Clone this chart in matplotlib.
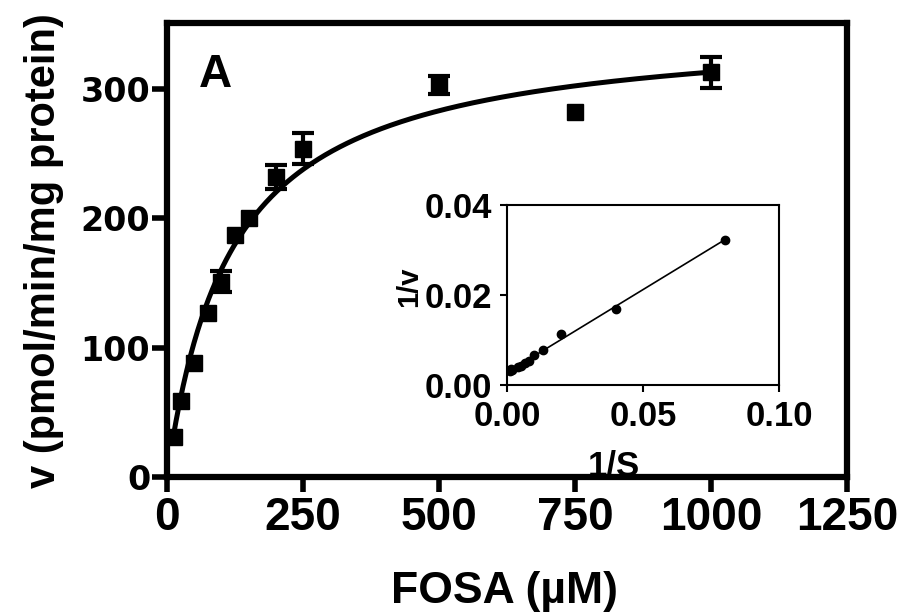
import matplotlib
matplotlib.use("Agg")
import matplotlib.pyplot as plt
import numpy as np

# FOSA concentration (uM), rate v (pmol/min/mg protein), SEM (0 = no bar drawn)
fosa = [12.5, 25, 50, 75, 100, 125, 150, 200, 250, 500, 750, 1000]
rate = [31, 59, 88, 127, 151, 187, 200, 232, 254, 303, 282, 313]
err = [0, 0, 0, 0, 8, 0, 0, 9, 12, 7, 0, 12]

# Michaelis-Menten fit parameters
vmax = 350
km = 118

x_ticks = [0, 250, 500, 750, 1000, 1250]
y_ticks = [0, 100, 200, 300]
inset_xticks = [0.00, 0.05, 0.10]
inset_yticks = [0.00, 0.02, 0.04]

FONT = "Liberation Sans"

fig = plt.figure(figsize=(9.04, 6.16), dpi=100)
ax = fig.add_axes([0.1847, 0.2256, 0.7522, 0.737])

S = np.array(fosa)
v = np.array(rate)
e = np.array(err)
has_err = e > 0

ax.errorbar(S[has_err], v[has_err], yerr=e[has_err], fmt="none", ecolor="black",
            elinewidth=3, capsize=8, capthick=3, zorder=3)
ax.plot(S, v, "s", color="black", markersize=11, zorder=4)

s_fit = np.linspace(10, 1000, 300)
ax.plot(s_fit, vmax * s_fit / (km + s_fit), color="black", linewidth=3.6, zorder=2)

ax.set_xlim(0, 1250)
ax.set_ylim(0, 351)
ax.set_xticks(x_ticks)
ax.set_yticks(y_ticks)
ax.set_xticklabels([str(t) for t in x_ticks], fontfamily=FONT, fontweight="bold", fontsize=33)
ax.set_yticklabels([str(t) for t in y_ticks], fontfamily="DejaVu Sans", fontweight="bold", fontsize=24)
ax.tick_params(axis="x", length=11, width=4, pad=3)
ax.tick_params(axis="y", length=11, width=4, pad=1)
for sp in ax.spines.values():
    sp.set_linewidth(4.5)

ax.text(0.0706, 0.859, "A", transform=ax.transAxes, ha="center", va="baseline",
        fontfamily=FONT, fontweight="bold", fontsize=33)

fig.text(505 / 904, 1 - 603 / 616, "FOSA (\u00b5M)", ha="center", va="baseline",
         fontfamily=FONT, fontweight="bold", fontsize=32)
fig.text(55 / 904, 1 - 251 / 616, "v (pmol/min/mg protein)", rotation=90,
         rotation_mode="anchor", ha="center", va="baseline",
         fontfamily=FONT, fontweight="bold", fontsize=30)

# inset: Lineweaver-Burk
ins = fig.add_axes([0.5608, 0.375, 0.3009, 0.2922])
inv_s = 1 / S
inv_v = 1 / v
slope, icpt = np.polyfit(inv_s, inv_v, 1)
xl = np.array([0, inv_s.max()])
ins.plot(xl, slope * xl + icpt, color="black", linewidth=1.2)
ins.plot(inv_s, inv_v, "o", color="black", markersize=6)
ins.set_xlim(0, 0.10)
ins.set_ylim(0, 0.04)
ins.set_xticks(inset_xticks)
ins.set_yticks(inset_yticks)
ins.set_xticklabels(["%.2f" % t for t in inset_xticks], fontfamily=FONT, fontweight="bold", fontsize=25)
ins.set_yticklabels(["%.2f" % t for t in inset_yticks], fontfamily=FONT, fontweight="bold", fontsize=25)
ins.tick_params(length=5, width=1.5, pad=6)
for sp in ins.spines.values():
    sp.set_linewidth(1.5)

fig.text(614 / 904, 1 - 475 / 616, "1/S", ha="center", va="baseline",
         fontfamily=FONT, fontweight="bold", fontsize=25)
fig.text(417 / 904, 1 - 287 / 616, "1/v", rotation=90, rotation_mode="anchor",
         ha="center", va="baseline", fontfamily=FONT, fontweight="bold", fontsize=21)

fig.savefig("out.png", dpi=100)
